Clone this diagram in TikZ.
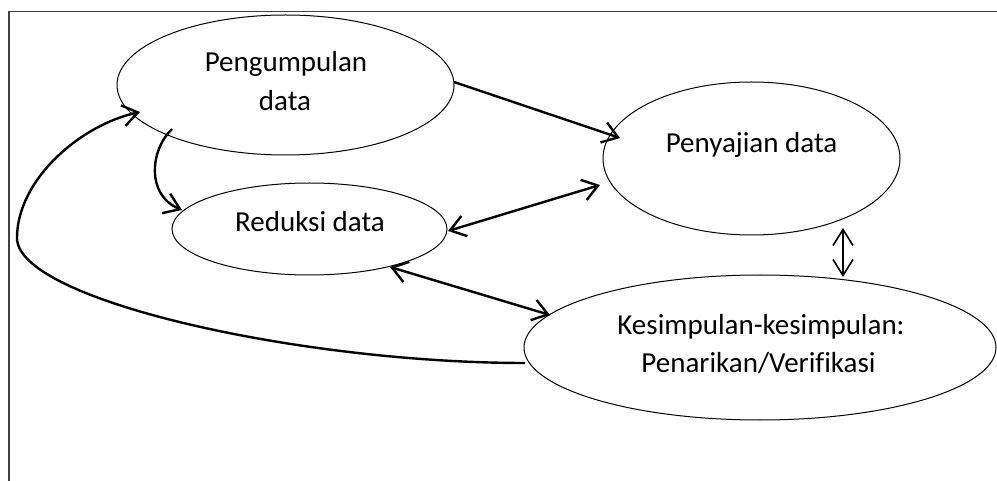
\documentclass[tikz,border=0pt]{standalone}
\usepackage{fontspec}
\setmainfont{Carlito}[Ligatures=CommonOff]
\usetikzlibrary{arrows.meta,shapes.geometric,calc}
\begin{document}
\begin{tikzpicture}[x=1pt,y=-1pt,
  ell/.style={draw, ellipse, inner sep=0pt, line width=1pt},
  txt/.style={inner sep=0pt, anchor=base, font=\fontsize{29}{38}\selectfont},
  conn/.style={line width=2.4pt, >={Straight Barb[length=15pt,width=21pt]}},
  thinconn/.style={line width=1.6pt, >={Straight Barb[length=16pt,width=20pt]}},
  framestyle/.style={draw=black!75, line width=1.3pt}]
\useasboundingbox (0,0) rectangle (997,481);
% frame
\draw[framestyle] (9,481) -- (9,11.7) -- (997,11.7);
% ellipses
\node[ell, minimum width=337pt, minimum height=140pt] (pg) at (285.5,85) {};
\node[ell, minimum width=275pt, minimum height=92pt] (rd) at (309.5,229) {};
\node[ell, minimum width=297pt, minimum height=153pt] (pd) at (751.5,158.5) {};
\node[ell, minimum width=472pt, minimum height=145pt] (ks) at (760,347.5) {};
% texts
\node[txt] (pg1) at (286,72) {Pengumpulan};
\node[txt] (pg2) at (285,111) {data};
\node[txt] (pdt) at (751.5,153) {Penyajian data};
\node[txt] (rdt) at (310,232) {Reduksi data};
\node[txt] (ks1) at (761,335) {Kesimpulan-kesimpulan:};
\node[txt] (ks2) at (758.5,373) {Penarikan/Verifikasi};
% connectors
\coordinate (lp) at (17,238);
\draw[conn,->] ($(pg)+(168.5,-3)$) -- ($(pd)+(-131.5,-20.5)$);
\draw[conn,<->] ($(rd)+(138.5,2)$) -- ($(pd)+(-151.5,26.5)$);
\draw[conn,<->] ($(rd)+(80.5,38)$) -- ($(ks)+(-210,-32.5)$);
\draw[thinconn,<->] ($(pd)+(91.5,69.5)$) -- ($(ks)+(83,-70.5)$);
\draw[conn,->] ($(pg)+(-113.5,44)$) .. controls +(-22,21) and +(-36,-15) .. ($(rd)+(-127.5,-19)$);
\draw[conn,->] ($(ks)+(-235,15.5)$) .. controls (300,363) and (17,300) .. (lp)
  .. controls (17,180) and (80,125) .. ($(pg)+(-145.5,27)$);
\end{tikzpicture}
\end{document}
